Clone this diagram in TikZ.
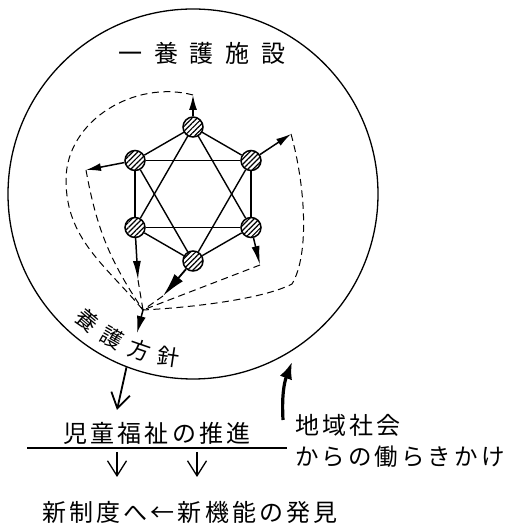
\documentclass[tikz,border=0pt]{standalone}
\usepackage{fontspec}
\newfontfamily\jp{Noto Sans CJK JP}[LetterSpace=13]
\newfontfamily\jpplain{Noto Sans CJK JP}
\newfontfamily\jpwide{Noto Sans CJK JP}[LetterSpace=48]
\usetikzlibrary{arrows.meta}
\usetikzlibrary{patterns.meta}

\begin{document}
\begin{tikzpicture}[x=1pt, y=1pt,
	jtext/.style={font=\jp\fontsize{24}{27}\selectfont, inner sep=0pt},
	member/.style={shape=circle, draw, line width=1.5pt, minimum size=20pt, inner sep=0pt,
		pattern={Lines[angle=45,distance=3.6pt,line width=1.2pt]}},
	link/.style={line width=1.4pt},
	spoke/.style={line width=1.5pt, -{Latex[length=15pt,width=8pt]}},
	route/.style={dash pattern=on 7pt off 4.5pt, line width=1pt},
	flow/.style={line width=1.3pt, -{Straight Barb[length=15pt,width=19pt]}}]
			\useasboundingbox (0,0) rectangle (509,524);
			\node[shape=circle, draw, line width=1.3pt, minimum size=370pt, inner sep=0pt] (o) at (193,330) {};
			\node[jtext, font=\jpwide\fontsize{24}{27}\selectfont] (t) at (202,471) {一養護施設};
			\node[member] (a) at (193,397) {};
			\node[member] (b) at (251,363.5) {};
			\node[member] (c) at (251,296.5) {};
			\node[member] (d) at (193,263) {};
			\node[member] (e) at (135,296.5) {};
			\node[member] (f) at (135,363.5) {};
			\foreach \u/\v in {a/b,b/c,c/d,d/e,e/f,f/a,a/c,c/e,e/a,b/d,d/f,f/b}
				\draw[link] (\u) -- (\v);
			\node[shape=coordinate] (ta) at (193,429) {};
			\node[shape=coordinate] (tb) at (291,390) {};
			\node[shape=coordinate] (tc) at (260,259) {};
			\node[shape=coordinate] (td) at (163,228) {};
			\node[shape=coordinate] (te) at (138,244) {};
			\node[shape=coordinate] (tf) at (86,354) {};
			\node[shape=coordinate] (p) at (143,214) {};
			\node[shape=coordinate] (q) at (137,191) {};
			\draw[spoke] (a) -- (ta);
			\draw[spoke] (b) -- (tb);
			\draw[spoke, -{Latex[length=19pt,width=8pt]}] (c) -- (tc);
			\draw[spoke, line width=1.8pt, -{Latex[length=24pt,width=11pt]}] (d) -- (td);
			\draw[spoke, -{Latex[length=19pt,width=8pt]}] (e) -- (te);
			\draw[spoke] (f) -- (tf);
			\draw[route] (ta) to[out=165,in=90] (66,344) to[out=-90,in=130] (p);
			\draw[route] (tf) to[bend right=12] (p);
			\draw[route] (te) -- (p);
			\draw[route] (td) -- (p);
			\draw[route] (tc) -- (p);
			\draw[route] (tb) .. controls (305,340) and (310,270) .. (292,240)
				.. controls (265,226) and (200,217) .. (p);
			\draw[line width=1.5pt, -{Latex[length=17pt,width=9pt]}] (p) -- (q);
			\foreach \ch/\ang [count=\i] in {養/230,護/240.5,方/251,針/261.5}
				\node[inner sep=0pt, font=\jpplain\fontsize{22}{25}\selectfont, rotate=\ang+90] (m\i)
					at ([shift={(\ang:165)}]o.center) {\ch};
			\node[shape=coordinate] (v) at (117,114) {};
			\draw[flow, line width=1.8pt] (o.249) -- (v);
			\node[jtext] (g) at (157,91) {児童福祉の推進};
			\node[shape=coordinate] (l1) at (27,76) {};
			\node[shape=coordinate] (l2) at (287,76) {};
			\draw[line width=1.1pt] (l1) -- (l2);
			\node[shape=coordinate] (s1) at (117,72) {};
			\node[shape=coordinate] (k1) at (117,47) {};
			\node[shape=coordinate] (s2) at (197,72) {};
			\node[shape=coordinate] (k2) at (197,47) {};
			\draw[flow] (s1) -- (k1);
			\draw[flow] (s2) -- (k2);
			\node[jtext] (h) at (190,12) {新制度へ←新機能の発見};
			\node[jtext, anchor=west] (w1) at (295,99) {地域社会};
			\node[jtext, anchor=west, font=\jp\fontsize{23.5}{27}\selectfont] (w2) at (295,67) {からの働らきかけ};
			\node[shape=coordinate] (r1) at (283,104) {};
			\node[shape=coordinate] (r2) at (292,162) {};
			\draw[line width=3.2pt, -{Latex[length=17pt,width=13pt]}] (r1) to[bend left=12] (r2);
		\end{tikzpicture}
\end{document}
